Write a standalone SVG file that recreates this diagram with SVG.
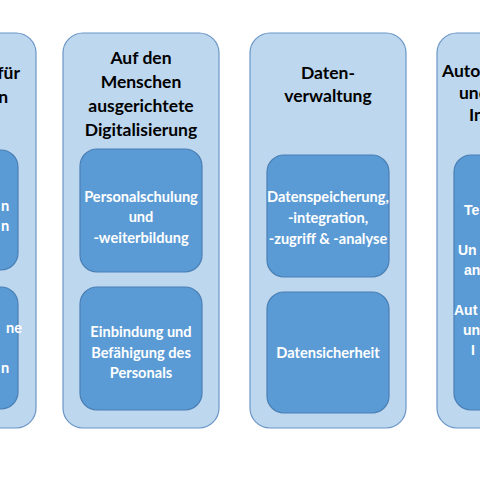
<svg xmlns="http://www.w3.org/2000/svg" width="480" height="480" viewBox="0 0 480 480">
<style>
.outer{fill:#BDD7EE;stroke:#6A95C6;stroke-width:1.2}
.inner{fill:#5B9BD5;stroke:#4A7FB5;stroke-width:1.2}
.t{font-family:Lato,"Liberation Sans",sans-serif;font-weight:bold;font-size:17.5px;fill:#000;text-anchor:middle}
.i{font-family:Lato,"Liberation Sans",sans-serif;font-weight:bold;font-size:14.6px;fill:#fff;text-anchor:middle}
.ta{font-family:Lato,"Liberation Sans",sans-serif;font-weight:bold;font-size:17.5px;fill:#000}
.ia{font-family:"Liberation Sans",Arial,sans-serif;font-weight:bold;font-size:14px;fill:#fff}
</style>
<rect width="480" height="480" fill="#fff"/>
<g id="col1">
<rect class="outer" x="-120" y="33" width="156" height="395" rx="20"/>
<text class="ta" x="20" y="79" text-anchor="end">für</text>
<text class="ta" x="8" y="103" text-anchor="end">n</text>
<g id="col1-box1">
<rect class="inner" x="-104" y="150" width="122" height="120" rx="17"/>
<text class="i" x="5" y="211" text-anchor="end">n</text>
<text class="i" x="5" y="231" text-anchor="end">n</text>
</g>
<g id="col1-box2">
<rect class="inner" x="-104" y="287" width="122" height="122" rx="17"/>
<text class="i" x="14" y="333" text-anchor="end">ne</text>
<text class="i" x="5" y="373" text-anchor="end">n</text>
</g>
</g>
<g id="col2">
<rect class="outer" x="63" y="33" width="156" height="395" rx="20"/>
<text class="t" x="141" y="64">Auf den</text>
<text class="t" x="141" y="88">Menschen</text>
<text class="t" x="141" y="112">ausgerichtete</text>
<text class="t" x="141" y="136">Digitalisierung</text>
<g id="col2-box1">
<rect class="inner" x="80" y="149" width="122" height="123" rx="17"/>
<text class="i" x="141" y="202">Personalschulung</text>
<text class="i" x="141" y="222">und</text>
<text class="i" x="141" y="243">-weiterbildung</text>
</g>
<g id="col2-box2">
<rect class="inner" x="80" y="287" width="122" height="123" rx="17"/>
<text class="i" x="141" y="337">Einbindung und</text>
<text class="i" x="141" y="358">Befähigung des</text>
<text class="i" x="141" y="378">Personals</text>
</g>
</g>
<g id="col3">
<rect class="outer" x="250" y="33" width="156" height="395" rx="20"/>
<text class="t" x="328" y="79">Daten-</text>
<text class="t" x="328" y="102">verwaltung</text>
<g id="col3-box1">
<rect class="inner" x="267" y="155" width="122" height="122" rx="17"/>
<text class="i" x="328" y="202">Datenspeicherung,</text>
<text class="i" x="328" y="223">-integration,</text>
<text class="i" x="328" y="244">-zugriff &amp; -analyse</text>
</g>
<g id="col3-box2">
<rect class="inner" x="267" y="292" width="122" height="121" rx="17"/>
<text class="i" x="328" y="358">Datensicherheit</text>
</g>
</g>
<g id="col4">
<rect class="outer" x="437" y="33" width="156" height="395" rx="20"/>
<text class="ta" x="442" y="77">Auto</text>
<text class="ta" x="459" y="99">und</text>
<text class="ta" x="469" y="121">In</text>
<g id="col4-box1">
<rect class="inner" x="454" y="155" width="122" height="255" rx="17"/>
<text class="ia" x="464" y="215">Te</text>
<text class="ia" x="458" y="255">Un</text>
<text class="ia" x="464" y="275">an</text>
<text class="ia" x="454" y="315">Aut</text>
<text class="ia" x="463" y="335">un</text>
<text class="ia" x="471" y="355">I</text>
</g>
</g>
<g id="connectors"/>
</svg>
